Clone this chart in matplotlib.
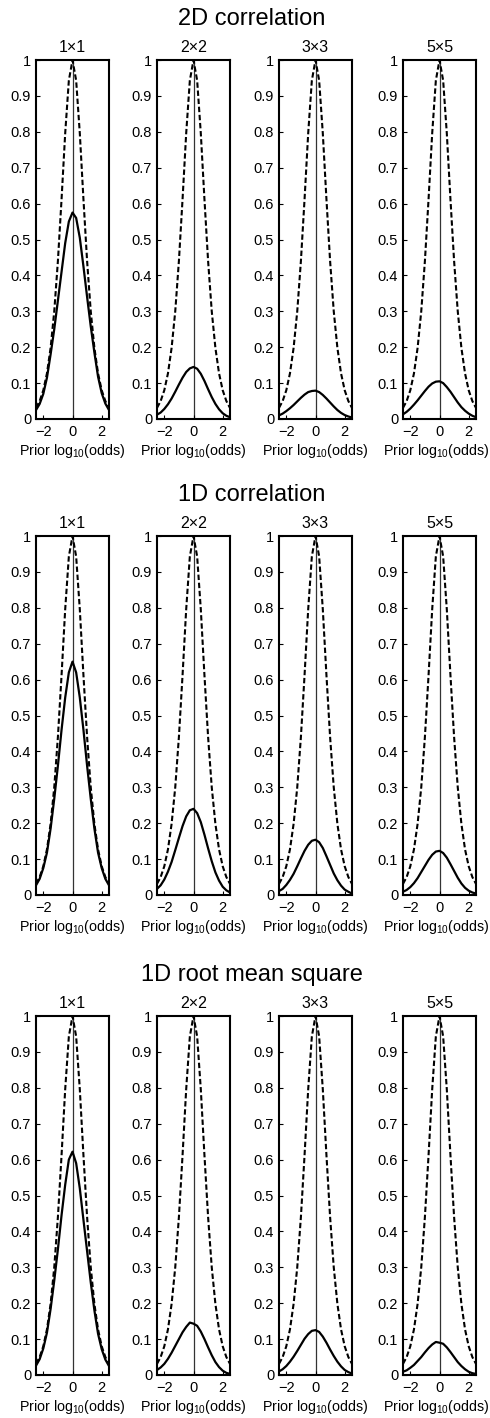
import numpy as np
import matplotlib.pyplot as plt

plt.rcParams['font.family'] = ['Liberation Sans', 'DejaVu Sans']
plt.rcParams['mathtext.fontset'] = 'custom'
plt.rcParams['mathtext.rm'] = 'Liberation Sans'
plt.rcParams['mathtext.it'] = 'Liberation Sans:italic'
plt.rcParams['mathtext.default'] = 'regular'

# x grid (prior log10 odds)
log_odds = [-2.5, -2.25, -2.0, -1.75, -1.5, -1.25, -1.0, -0.75, -0.5, -0.25, 0.0,
            0.25, 0.5, 0.75, 1.0, 1.25, 1.5, 1.75, 2.0, 2.25, 2.5]

# dashed curve, same in every panel
upper = [0.031, 0.050, 0.080, 0.127, 0.198, 0.300, 0.440, 0.612, 0.796, 0.943, 1.0,
         0.943, 0.796, 0.612, 0.440, 0.300, 0.198, 0.127, 0.080, 0.050, 0.031]

row_titles = ['2D correlation', '1D correlation', '1D root mean square']
sizes = ['1\u00d71', '2\u00d72', '3\u00d73', '5\u00d75']

# 2D correlation
c2d_1 = [0.025, 0.042, 0.070, 0.115, 0.180, 0.250, 0.330, 0.410, 0.490, 0.550, 0.575,
         0.560, 0.505, 0.425, 0.340, 0.258, 0.185, 0.118, 0.072, 0.043, 0.025]
c2d_2 = [0.012, 0.018, 0.028, 0.041, 0.057, 0.076, 0.096, 0.115, 0.131, 0.141, 0.145,
         0.140, 0.126, 0.106, 0.083, 0.061, 0.042, 0.027, 0.016, 0.009, 0.005]
c2d_3 = [0.010, 0.015, 0.022, 0.030, 0.039, 0.049, 0.059, 0.068, 0.075, 0.078, 0.079,
         0.075, 0.067, 0.057, 0.046, 0.035, 0.025, 0.017, 0.011, 0.007, 0.004]
c2d_5 = [0.013, 0.020, 0.029, 0.040, 0.052, 0.065, 0.078, 0.090, 0.099, 0.104, 0.105,
         0.100, 0.089, 0.076, 0.061, 0.046, 0.033, 0.023, 0.015, 0.009, 0.005]

# 1D correlation
c1d_1 = [0.027, 0.045, 0.075, 0.118, 0.185, 0.268, 0.360, 0.460, 0.550, 0.620, 0.650,
         0.620, 0.550, 0.460, 0.360, 0.268, 0.185, 0.118, 0.075, 0.045, 0.027]
c1d_2 = [0.017, 0.027, 0.043, 0.065, 0.092, 0.125, 0.159, 0.192, 0.219, 0.236, 0.240,
         0.228, 0.203, 0.168, 0.130, 0.094, 0.063, 0.040, 0.023, 0.013, 0.007]
c1d_3 = [0.011, 0.017, 0.028, 0.042, 0.059, 0.080, 0.102, 0.123, 0.140, 0.151, 0.154,
         0.147, 0.131, 0.108, 0.084, 0.060, 0.041, 0.026, 0.015, 0.009, 0.004]
c1d_5 = [0.009, 0.014, 0.022, 0.033, 0.047, 0.064, 0.081, 0.098, 0.112, 0.121, 0.123,
         0.117, 0.104, 0.086, 0.067, 0.048, 0.032, 0.020, 0.012, 0.007, 0.004]

# 1D root mean square
rms_1 = [0.026, 0.044, 0.074, 0.118, 0.184, 0.263, 0.350, 0.445, 0.530, 0.600, 0.622,
         0.590, 0.520, 0.432, 0.345, 0.258, 0.180, 0.115, 0.072, 0.043, 0.025]
rms_2 = [0.014, 0.021, 0.031, 0.045, 0.062, 0.081, 0.100, 0.119, 0.134, 0.146, 0.143,
         0.137, 0.121, 0.100, 0.077, 0.055, 0.036, 0.022, 0.012, 0.006, 0.003]
rms_3 = [0.010, 0.016, 0.025, 0.037, 0.051, 0.067, 0.084, 0.101, 0.114, 0.123, 0.125,
         0.120, 0.107, 0.090, 0.071, 0.053, 0.037, 0.024, 0.014, 0.008, 0.004]
rms_5 = [0.009, 0.013, 0.020, 0.028, 0.039, 0.050, 0.063, 0.075, 0.085, 0.092, 0.090,
         0.087, 0.077, 0.064, 0.050, 0.036, 0.025, 0.016, 0.009, 0.005, 0.003]

curves = [[c2d_1, c2d_2, c2d_3, c2d_5],
          [c1d_1, c1d_2, c1d_3, c1d_5],
          [rms_1, rms_2, rms_3, rms_5]]

yticks = [0, 0.1, 0.2, 0.3, 0.4, 0.5, 0.6, 0.7, 0.8, 0.9, 1.0]
ylabels = ['0', '0.1', '0.2', '0.3', '0.4', '0.5', '0.6', '0.7', '0.8', '0.9', '1']

W, H = 490.0, 1418.0
fig = plt.figure(figsize=(W/100, H/100), dpi=100)
col_left = [36, 157, 279, 403]
ax_w = 73
row_top = [60, 536, 1016]
ax_h = 359

for r in range(3):
    fig.text(252/W, 1-(row_top[r]-35)/H, row_titles[r], ha='center',
             va='baseline', fontsize=17)
    for c in range(4):
        ax = fig.add_axes([col_left[c]/W, 1-(row_top[r]+ax_h)/H, ax_w/W, ax_h/H])
        ax.axvline(0, color='#333333', lw=0.9, zorder=1)
        ax.plot(log_odds, upper, color='k', lw=1.5, ls=(0, (2.6, 1.3)), zorder=2)
        ax.plot(log_odds, curves[r][c], color='k', lw=1.6, zorder=3)
        ax.set_xlim(-2.5, 2.5)
        ax.set_ylim(0, 1)
        ax.set_xticks([-2, 0, 2])
        ax.set_yticks(yticks)
        ax.set_yticklabels(ylabels)
        ax.tick_params(direction='in', length=3, width=0.8, top=False, right=False,
                       labelsize=10.5)
        ax.tick_params(axis='x', pad=4.5)
        ax.tick_params(axis='y', pad=3.5)
        for s in ax.spines.values():
            s.set_linewidth(1.5)
        ax.set_title(sizes[c], fontsize=11.5, pad=5.5)
        ax.set_xlabel('Prior log$_{10}$(odds)', fontsize=10.3, labelpad=2)
        if c == 3:
            ax.xaxis.label.set_x(0.45)

fig.savefig('out.png', dpi=100)
